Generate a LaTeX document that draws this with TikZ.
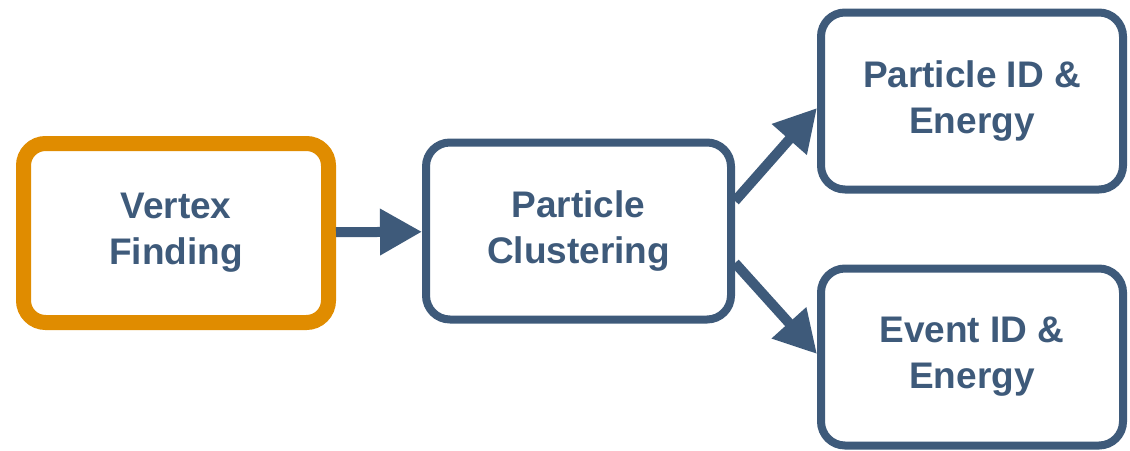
\documentclass[tikz,border=0pt]{standalone}
\usepackage{fontspec}
\setmainfont{Liberation Sans}
\usetikzlibrary{arrows.meta,positioning}

\definecolor{stageblue}{HTML}{3E5A7A}
\definecolor{stageorange}{HTML}{E08C00}

\begin{document}
\begin{tikzpicture}[
    x=1pt, y=1pt,
    stage/.style={rectangle, rounded corners=24pt, minimum width=305pt, minimum height=177pt,
                  align=center, draw=stageblue, line width=8pt, fill=white,
                  text=stageblue, font=\bfseries\fontsize{37}{46}\selectfont},
    active/.style={stage, draw=stageorange, line width=15pt, rounded corners=22pt, minimum height=179pt},
    arrow/.style={-{Triangle[length=42pt,width=44pt]}, line width=10pt, draw=stageblue, fill=stageblue}
]

    \useasboundingbox (0,0) rectangle (1130,-450);

    \node (vertex) [active] at (176,-233) {Vertex\\Finding};
    \node (cluster) [stage, right=86pt of vertex, yshift=2pt] {Particle\\Clustering};
    \node (pid) [stage, minimum width=302pt, right=82pt of cluster, yshift=130pt] {Particle ID \&\\Energy};
    \node (eid) [stage, minimum width=302pt, right=82pt of cluster, yshift=-126pt] {Event ID \&\\Energy};

    \draw [arrow] (vertex) -- (cluster);
    \draw [arrow] ([yshift=30pt]cluster.east) -- ([yshift=-7pt]pid.west);
    \draw [arrow] ([yshift=-32pt]cluster.east) -- ([yshift=3pt]eid.west);

\end{tikzpicture}
\end{document}
